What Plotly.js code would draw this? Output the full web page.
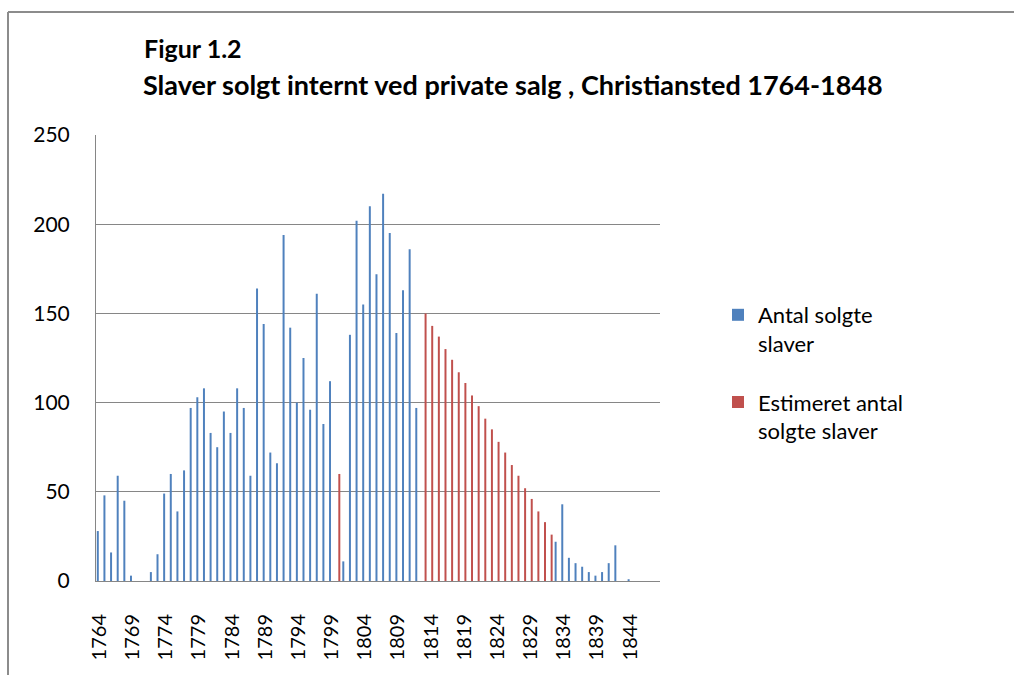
<!DOCTYPE html>
<html>
<head>
<meta charset="utf-8">
<script src="https://cdn.plot.ly/plotly-3.0.1.min.js"></script>
<style>html,body{margin:0;padding:0;background:#fff;}#chart{width:1014px;height:675px;}</style>
</head>
<body>
<div id="chart"></div>
<script>
// Antal solgte slaver (blue)
const soldYears = [1764,1765,1766,1767,1768,1769,1770,1771,1772,1773,1774,1775,1776,1777,1778,1779,1780,1781,1782,1783,1784,1785,1786,1787,1788,1789,1790,1791,1792,1793,1794,1795,1796,1797,1798,1799,1801,1802,1803,1804,1805,1806,1807,1808,1809,1810,1811,1812,1833,1834,1835,1836,1837,1838,1839,1840,1841,1842,1844];
const soldValues = [28,48,16,59,45,3,0,0,5,15,49,60,39,62,97,103,108,83,75,95,83,108,97,59,164,144,72,66,194,142,100,125,96,161,88,112,11,138,202,155,210,172,217,195,139,163,186,97,22,43,13,10,8,5,3,5,10,20,1];

// Estimeret antal solgte slaver (red)
const estYears = [1800,1813,1814,1815,1816,1817,1818,1819,1820,1821,1822,1823,1824,1825,1826,1827,1828,1829,1830,1831,1832];
const estValues = [60,150,143,137,130,124,117,111,104,98,91,85,78,72,65,59,52,46,39,33,26];

// Tick labels every 5 years
const tickYears = [1764,1769,1774,1779,1784,1789,1794,1799,1804,1809,1814,1819,1824,1829,1834,1839,1844];

const FONT = 'Lato, "Open Sans", sans-serif';

const traces = [
  {type:'bar', name:'Antal solgte<br>slaver', x:soldYears, y:soldValues,
   width:0.3, offset:-0.38,
   marker:{color:'#4F81BD', line:{width:0}}, legendgroup:'a', hoverinfo:'x+y'},
  {type:'bar', name:'Estimeret antal<br>solgte slaver', x:estYears, y:estValues,
   width:0.3, offset:0.02,
   marker:{color:'#C0504D', line:{width:0}}, legendgroup:'b', hoverinfo:'x+y'}
];

const L = 96, R = 660, T = 135, B = 581;
const px2x = p => (p - L) / (R - L);
const px2y = p => (B - p) / (B - T);

const layout = {
  width:1014, height:675,
  margin:{l:L, r:1014-R, t:T, b:675-B, pad:0},
  paper_bgcolor:'#ffffff', plot_bgcolor:'#ffffff',
  font:{family:FONT, color:'#000000', size:20},
  barmode:'overlay',
  title:{text:'<b>Slaver solgt internt ved private salg , Christiansted 1764-1848</b>',
         xref:'container', yref:'container', x:143/1014, xanchor:'left',
         y:1-86/675, yanchor:'middle', font:{family:FONT, size:27, color:'#000'}},
  annotations:[{text:'<b>Figur 1.2</b>', xref:'paper', yref:'paper', x:px2x(142), y:px2y(48),
                xanchor:'left', yanchor:'middle', showarrow:false, font:{family:FONT, size:25, color:'#000'}}],
  xaxis:{type:'linear', range:[1763.5,1848.5], tickmode:'array', tickvals:tickYears,
         ticktext:tickYears.map(String), tickangle:-90, ticks:'', showgrid:false, zeroline:false,
         showline:true, linecolor:'#868686', linewidth:1, ticklabelstandoff:24,
         tickfont:{family:FONT, size:20, color:'#000'}, fixedrange:true},
  yaxis:{range:[0,250], dtick:50, tick0:0, ticks:'', showgrid:true, gridcolor:'#868686', gridwidth:1,
         zeroline:false, showline:true, linecolor:'#868686', linewidth:1, ticklabelstandoff:21,
         tickfont:{family:FONT, size:21, color:'#000'}, fixedrange:true},
  showlegend:true,
  legend:{x:px2x(718), xanchor:'left', y:px2y(294), yanchor:'top', valign:'top',
          tracegroupgap:27, font:{family:FONT, size:22, color:'#000'}, bgcolor:'rgba(0,0,0,0)'},
  shapes:[
    {type:'line', xref:'paper', yref:'paper', x0:px2x(8), x1:px2x(1014), y0:px2y(12), y1:px2y(12),
     line:{color:'#8c8c8c', width:2}},
    {type:'line', xref:'paper', yref:'paper', x0:px2x(8), x1:px2x(8), y0:px2y(12), y1:px2y(675),
     line:{color:'#8c8c8c', width:2}}
  ]
};

Plotly.newPlot('chart', traces, layout, {displayModeBar:false, staticPlot:true});
</script>
</body>
</html>
